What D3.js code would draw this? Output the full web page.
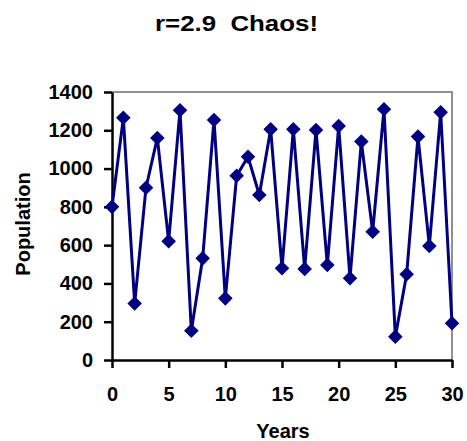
<!DOCTYPE html>
<html>
<head>
<meta charset="utf-8">
<script src="https://cdn.jsdelivr.net/npm/d3@7"></script>
<style>
  body { margin: 0; background: #fff; }
  text { font-family: "Liberation Sans", Arial, sans-serif; font-weight: bold; fill: #000; }
</style>
</head>
<body>
<div id="chart"></div>
<script>
const years = d3.range(0, 31);
const population = [800, 1265, 295, 900, 1160, 620, 1305, 153, 531, 1254, 322,
                     963, 1062, 862, 1205, 479, 1205, 476, 1202, 496, 1222,
                     427, 1141, 670, 1310, 122, 448, 1167, 596, 1294, 192];
const xTicks = [0, 5, 10, 15, 20, 25, 30];
const yTicks = [0, 200, 400, 600, 800, 1000, 1200, 1400];

const W = 467, H = 441;
const margin = {top: 92, left: 112};
const width  = 452 - margin.left,
      height = 360 - margin.top;

const svg = d3.select("#chart").append("svg")
    .attr("width", W)
    .attr("height", H);

const g = svg.append("g")
    .attr("transform", `translate(${margin.left},${margin.top})`);

const x = d3.scaleLinear().domain([0, 30]).range([0, width]);
const y = d3.scaleLinear().domain([0, 1400]).range([height, 0]);

// gray frame on top and right
g.append("path")
  .attr("d", `M0,0H${width}V${height}`)
  .attr("fill", "none")
  .attr("stroke", "#909090")
  .attr("stroke-width", 2);

const xAxis = g.append("g")
    .attr("transform", `translate(0,${height})`)
    .call(d3.axisBottom(x).tickValues(xTicks).tickFormat(d3.format("d"))
      .tickSize(8).tickPadding(19).tickSizeOuter(0));

const yAxis = g.append("g")
    .call(d3.axisLeft(y).tickValues(yTicks).tickFormat(d3.format("d"))
      .tickSize(8).tickPadding(11).tickSizeOuter(0));

[xAxis, yAxis].forEach(a => {
  a.select(".domain").attr("stroke", "#000").attr("stroke-width", 2.5);
  a.selectAll(".tick line").attr("stroke", "#000").attr("stroke-width", 2.5);
  a.selectAll(".tick text")
    .attr("font-size", "20px")
    .attr("font-family", "Liberation Sans, Arial, sans-serif")
    .attr("font-weight", "bold")
    .attr("fill", "#000");
});

const line = d3.line()
  .x((d, i) => x(years[i]))
  .y(d => y(d));

g.append("path")
  .datum(population)
  .attr("d", line)
  .attr("fill", "none")
  .attr("stroke", "#000080")
  .attr("stroke-width", 3);

g.selectAll(".pt")
  .data(population)
  .enter()
  .append("path")
    .attr("class", "pt")
    .attr("d", d3.symbol().type(d3.symbolDiamond2).size(135))
    .attr("transform", (d, i) => `translate(${x(years[i])},${y(d)})`)
    .attr("fill", "#000080");

svg.append("text")
  .attr("x", 155)
  .attr("y", 31)
  .attr("font-size", "22px")
  .attr("textLength", 163)
  .attr("lengthAdjust", "spacingAndGlyphs")
  .attr("xml:space", "preserve")
  .text("r=2.9  Chaos!");

svg.append("text")
  .attr("x", 283)
  .attr("y", 438)
  .attr("text-anchor", "middle")
  .attr("font-size", "20px")
  .text("Years");

svg.append("text")
  .attr("transform", "translate(30,224) rotate(-90)")
  .attr("text-anchor", "middle")
  .attr("font-size", "20px")
  .text("Population");
</script>
</body>
</html>
